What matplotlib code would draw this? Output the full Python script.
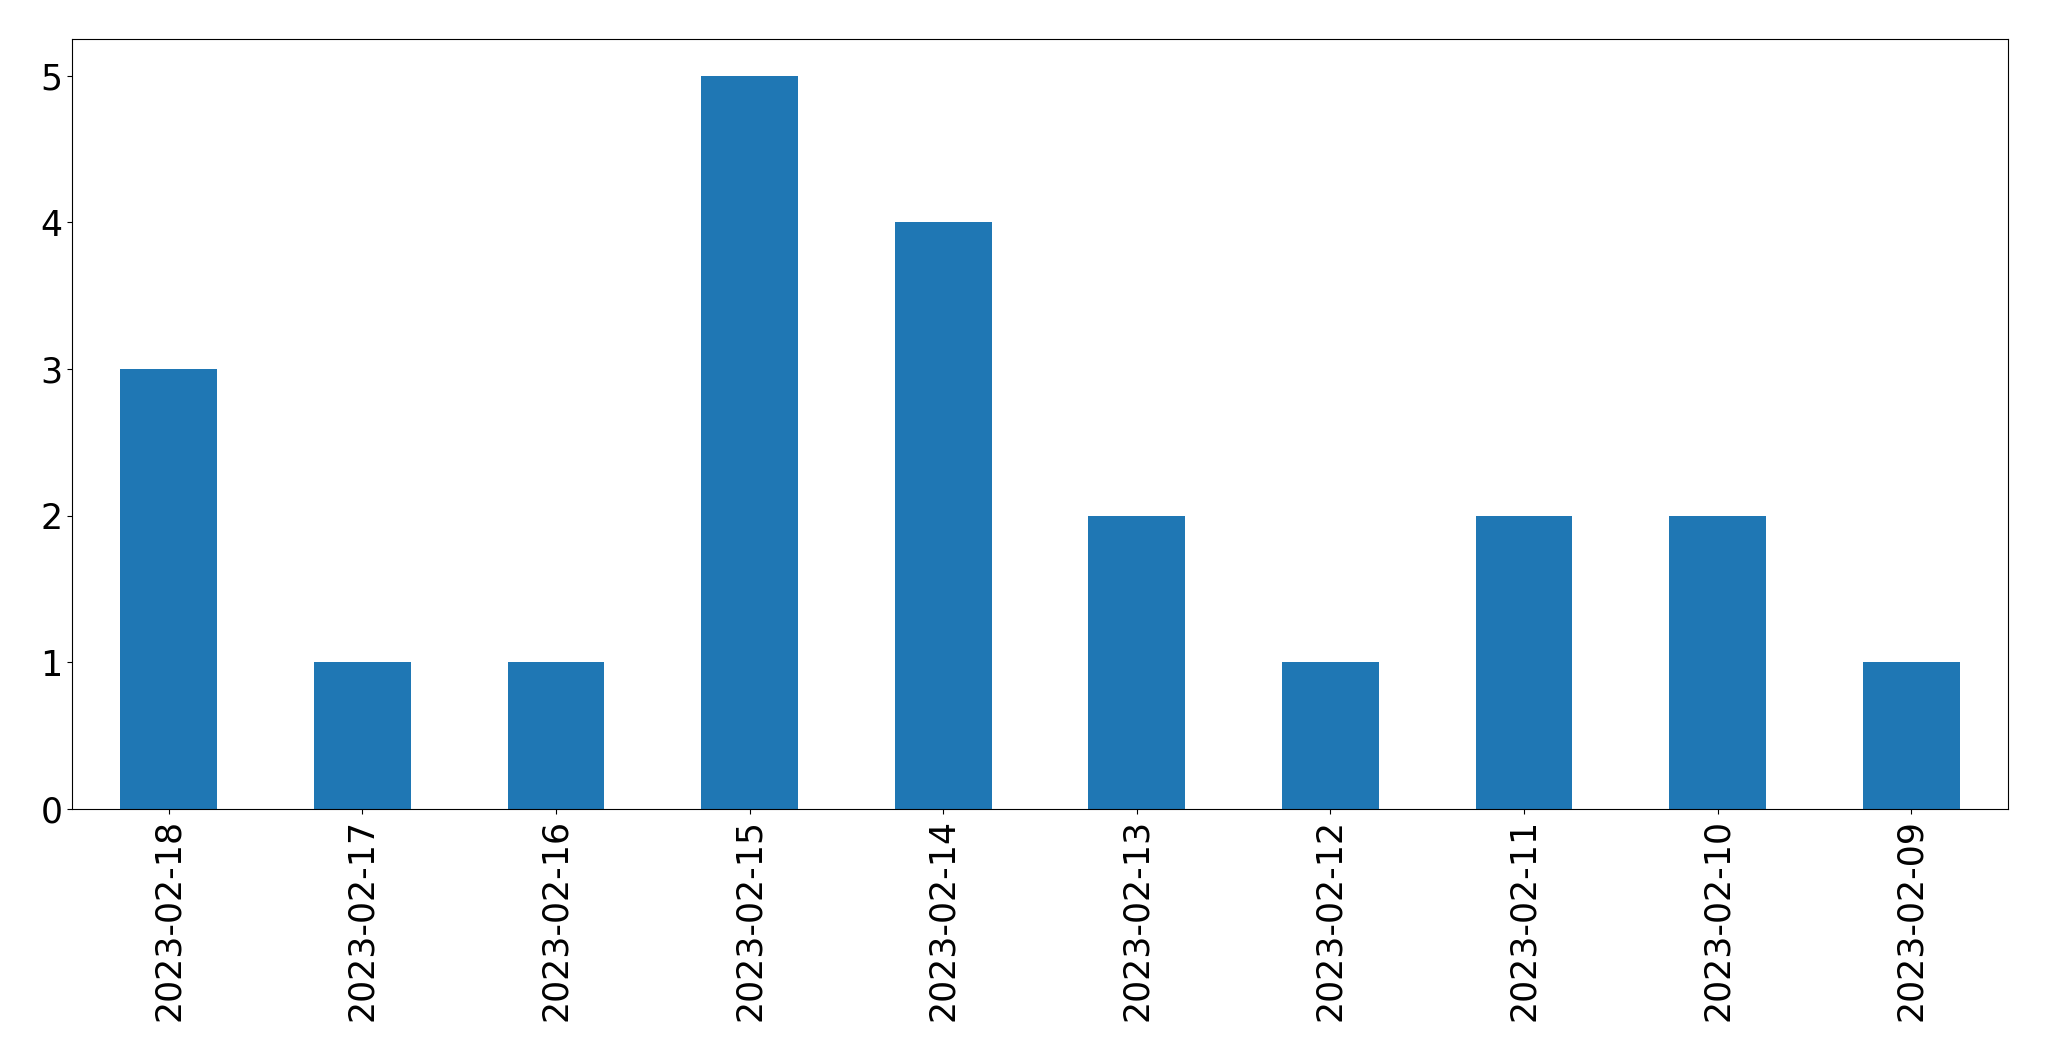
import matplotlib
matplotlib.use('Agg')
import matplotlib.pyplot as plt
import numpy as np

# dữ liệu
dates = ['2023-02-18', '2023-02-17', '2023-02-16', '2023-02-15', '2023-02-14',
         '2023-02-13', '2023-02-12', '2023-02-11', '2023-02-10', '2023-02-09']
counts = [3, 1, 1, 5, 4, 2, 1, 2, 2, 1]

fig = plt.figure(figsize=(20.49, 10.61), dpi=100)
ax = fig.add_axes([72 / 2049, 1 - 809 / 1061, (2008 - 72) / 2049, (809 - 39) / 1061])

x = np.arange(len(dates))
ax.bar(x, counts, width=0.5, color='#1f77b4')
ax.set_xlim(-0.5, len(dates) - 0.5)
ax.set_xticks(x)
ax.set_xticklabels(dates, rotation=90)
ax.tick_params(axis='both', labelsize=25)

fig.savefig('out.png', dpi=100)
